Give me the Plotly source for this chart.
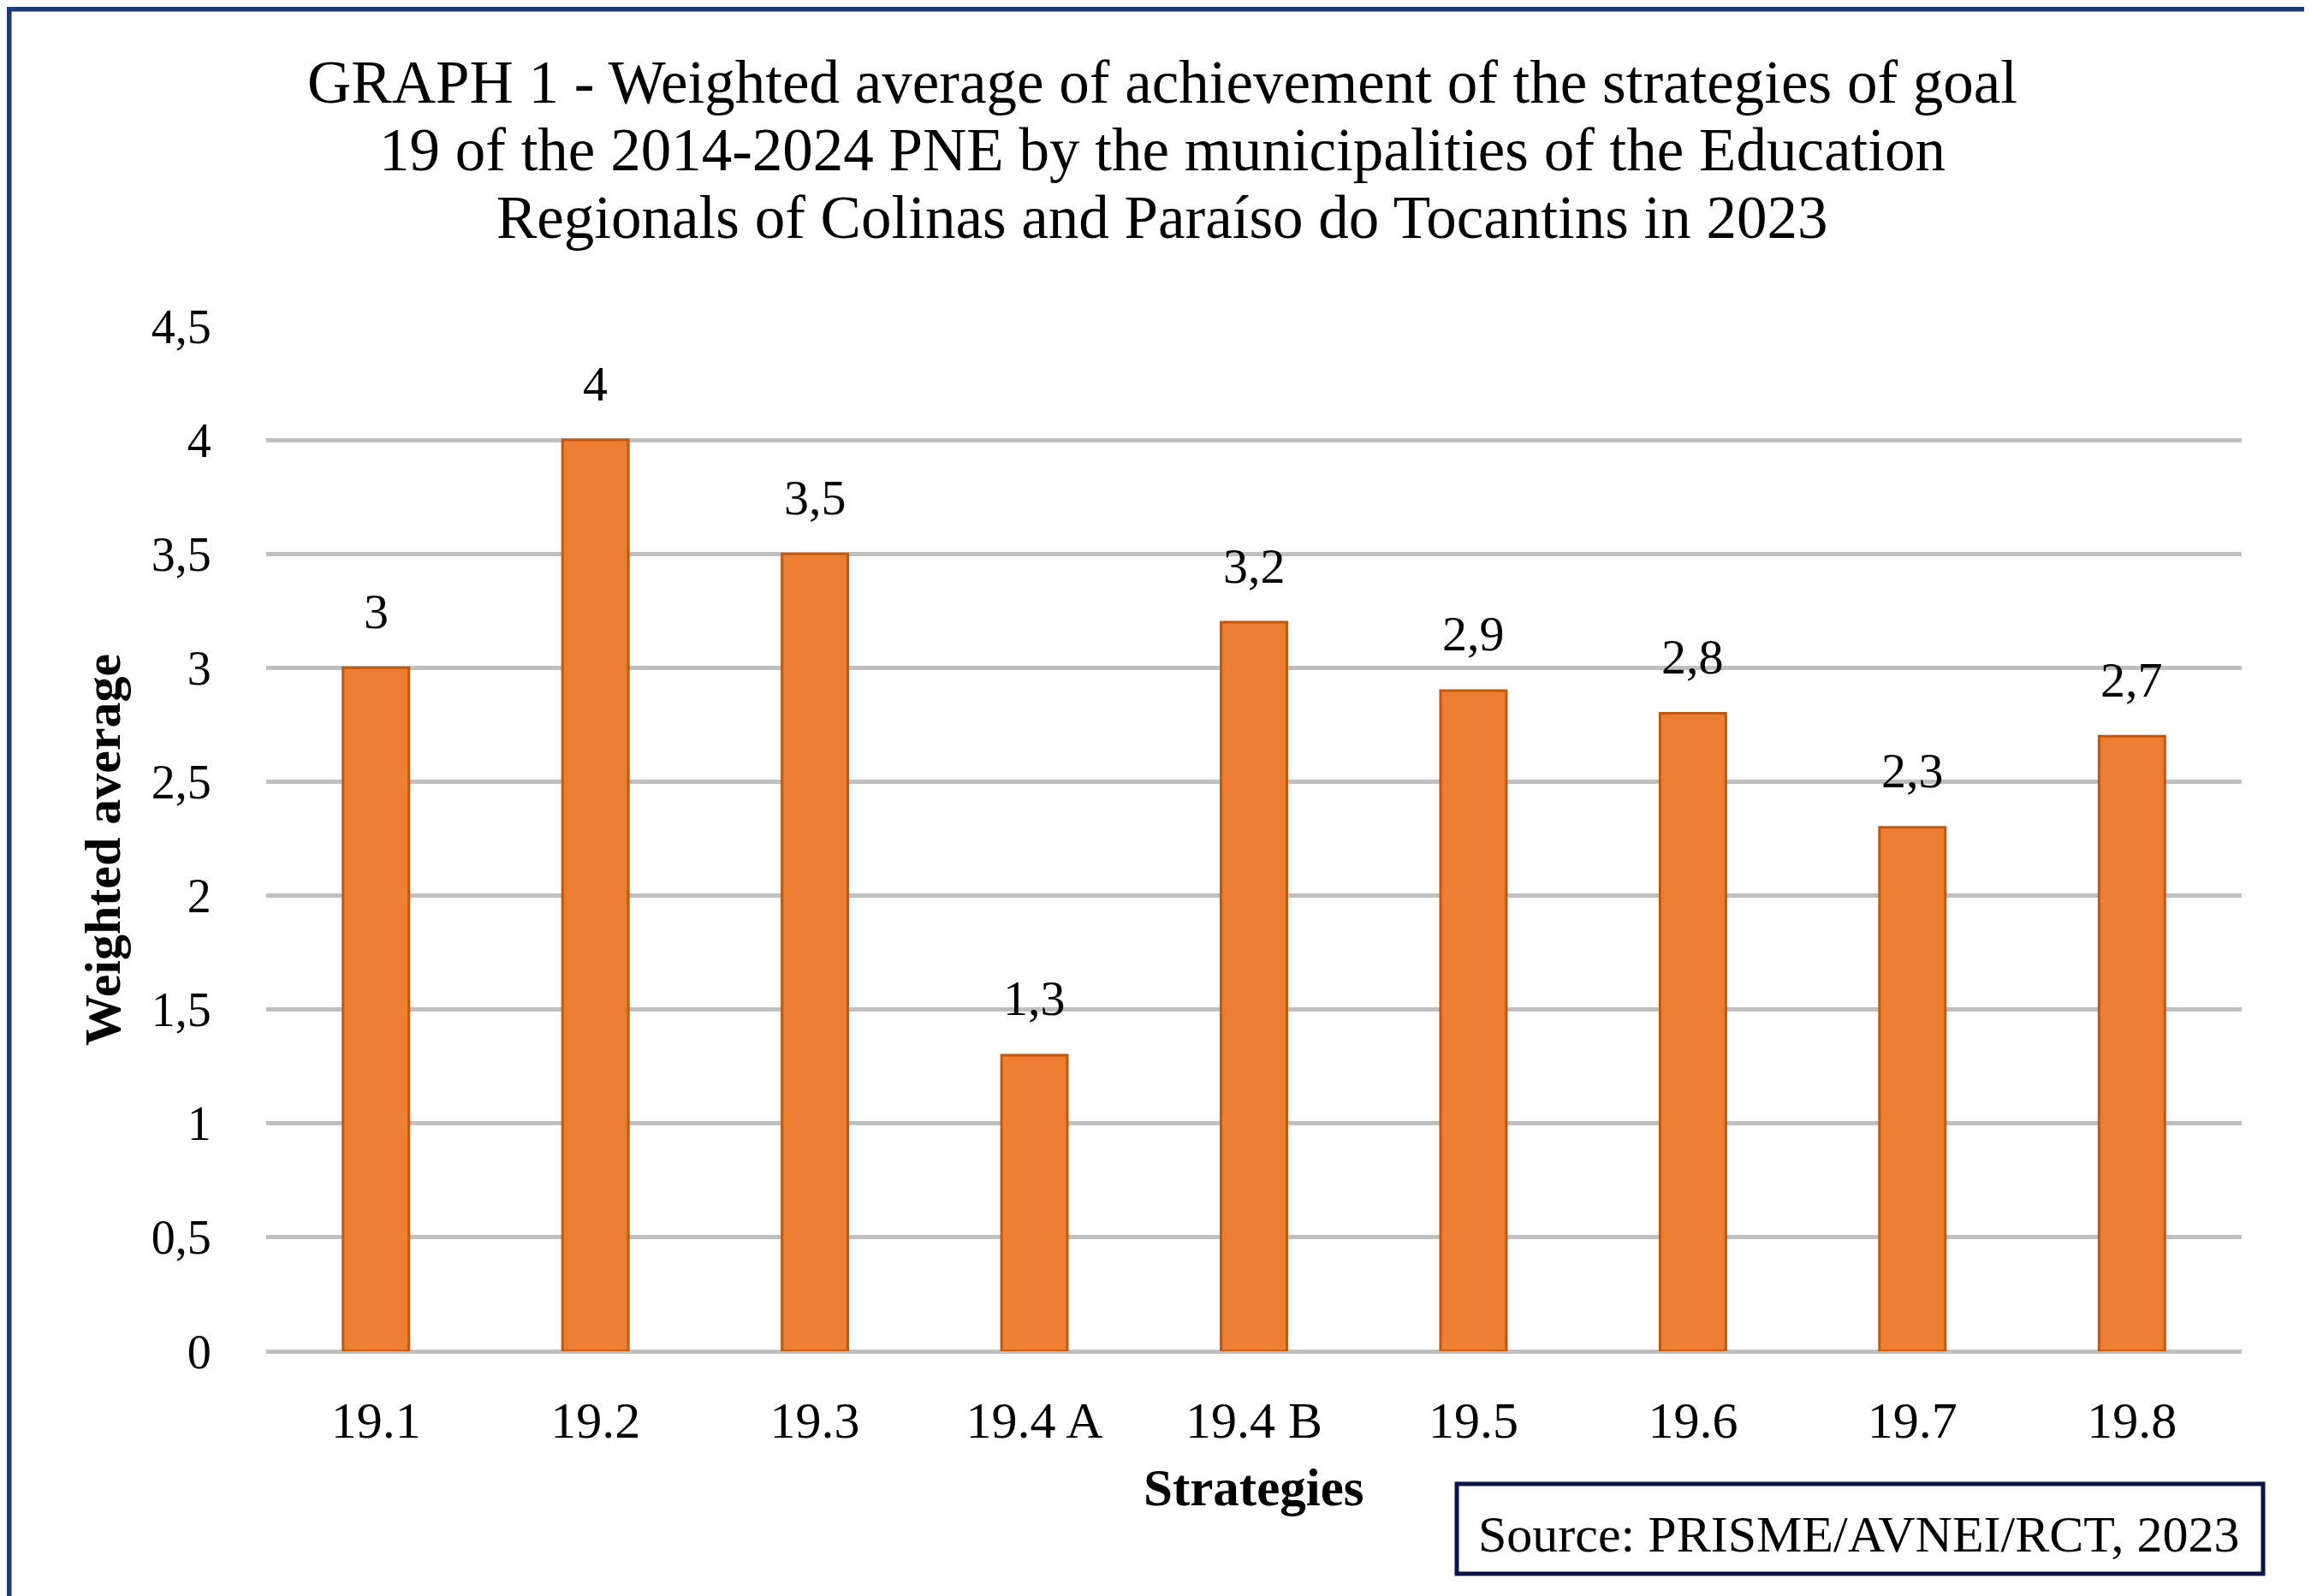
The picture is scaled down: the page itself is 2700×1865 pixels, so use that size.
import plotly.graph_objects as go

# chart values
strategies = ["19.1", "19.2", "19.3", "19.4 A", "19.4 B", "19.5", "19.6", "19.7", "19.8"]
weighted_avg = [3, 4, 3.5, 1.3, 3.2, 2.9, 2.8, 2.3, 2.7]
y_ticks = [0, 0.5, 1, 1.5, 2, 2.5, 3, 3.5, 4, 4.5]
title_lines = [
    "GRAPH 1 - Weighted average of achievement of the strategies of goal",
    "19 of the 2014-2024 PNE by the municipalities of the Education",
    "Regionals of Colinas and Paraíso do Tocantins in 2023",
]

W, H = 2700, 1865
ML, MR, MT, MB = 303, 89, 373, 294
PW, PH = W - ML - MR, H - MT - MB

FONT = "Liberation Serif"


def px_x(x):
    # figure pixel -> paper x
    return (x - ML) / PW


def px_y(y):
    # figure pixel (from top) -> paper y
    return (H - MB - y) / PH


fig = go.Figure(
    data=[
        go.Bar(
            x=strategies,
            y=weighted_avg,
            marker=dict(color="#ED7D31", line=dict(color="#C0580F", width=3)),
            hoverinfo="x+y",
        )
    ]
)

# data labels above the bars (x given as category index, since the
# category names look numeric)
for i, v in enumerate(weighted_avg):
    fig.add_annotation(
        x=i, y=v, text=f"{v:g}".replace(".", ","),
        showarrow=False, yanchor="middle", yshift=66,
        font=dict(family=FONT, size=58, color="#000000"),
    )

# title, one line per annotation to keep the tight line spacing
for k, line in enumerate(title_lines):
    fig.add_annotation(
        x=px_x(W / 2), y=px_y(88 + 79 * k), xref="paper", yref="paper",
        xanchor="center", yanchor="middle", showarrow=False,
        text=line, font=dict(family=FONT, size=71, color="#000000"),
    )

fig.add_annotation(
    x=px_x(112), y=px_y(985), xref="paper", yref="paper",
    xanchor="center", yanchor="middle",
    text="<b>Weighted average</b>", textangle=-90, showarrow=False,
    font=dict(family=FONT, size=60, color="#000000"),
)
fig.add_annotation(
    x=px_x(1456), y=px_y(1730), xref="paper", yref="paper",
    xanchor="center", yanchor="middle",
    text="<b>Strategies</b>", showarrow=False,
    font=dict(family=FONT, size=61, color="#000000"),
)

# source box
fig.add_shape(
    type="rect", xref="paper", yref="paper",
    x0=px_x(1694), x1=px_x(2636), y0=px_y(1831), y1=px_y(1726),
    line=dict(color="#0A1446", width=5), fillcolor="rgba(0,0,0,0)",
)
fig.add_annotation(
    x=px_x(1717), y=px_y(1785), xref="paper", yref="paper",
    text="Source: PRISME/AVNEI/RCT, 2023", showarrow=False,
    xanchor="left", yanchor="middle",
    font=dict(family=FONT, size=60, color="#000000"),
)

# outer frame
fig.add_shape(
    type="rect", xref="paper", yref="paper",
    x0=px_x(2), x1=px_x(W - 2), y0=px_y(H - 2), y1=px_y(2),
    line=dict(color="#1F3A78", width=7), fillcolor="rgba(0,0,0,0)",
)

fig.update_layout(
    width=W, height=H,
    margin=dict(l=ML, r=MR, t=MT, b=MB),
    paper_bgcolor="white", plot_bgcolor="white",
    separators=", ",
    bargap=0.7,
    showlegend=False,
    xaxis=dict(
        type="category",
        showgrid=False, showline=False, zeroline=False,
        ticks="outside", ticklen=28, tickcolor="rgba(0,0,0,0)",
        tickfont=dict(family=FONT, size=60, color="#000000"),
    ),
    yaxis=dict(
        range=[0, 4.5], tickvals=y_ticks,
        showgrid=True, gridcolor="#BFBFBF", gridwidth=5,
        zeroline=True, zerolinecolor="#BFBFBF", zerolinewidth=5,
        showline=False,
        ticks="outside", ticklen=52, tickcolor="rgba(0,0,0,0)",
        tickfont=dict(family=FONT, size=56, color="#000000"),
    ),
)

fig.write_html("out.html")
